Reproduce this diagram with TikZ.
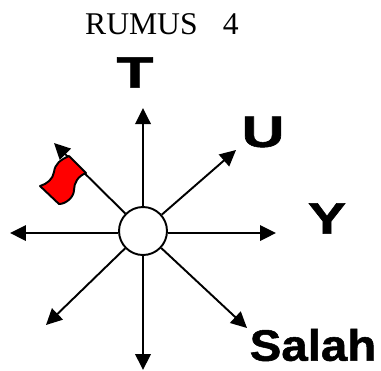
\documentclass[tikz,border=0pt]{standalone}
\usepackage{fontspec}
\setmainfont{Liberation Serif}
\newfontfamily\headfont[BoldFeatures={FakeBold=1.2}]{Liberation Sans}
\usetikzlibrary{arrows.meta}

\begin{document}
\begin{tikzpicture}[
    x=0.02cm, y=-0.02cm,
    hub/.style={circle, draw, fill=white, line width=1.1pt, minimum size=0.96cm, inner sep=0pt},
    direction/.style={font=\headfont\bfseries\fontsize{25}{25}\selectfont, inner sep=0pt, transform shape},
    arrow/.style={-{Triangle[length=0.32cm, width=0.31cm]}, line width=1.1pt}
]
    \useasboundingbox (0,0) rectangle (381,370);

    \coordinate (tipN) at (143,108);
    \coordinate (tipNE) at (236,150);
    \coordinate (tipE) at (276,233);
    \coordinate (tipSE) at (247,328);
    \coordinate (tipS) at (143,370);
    \coordinate (tipSW) at (46,325);
    \coordinate (tipW) at (10,233);
    \coordinate (tipNW) at (54,143);

    \node[hub] (center) at (143,231) {};

    \draw[arrow] (center) -- (tipN);
    \draw[arrow] (center) -- (tipNE);
    \draw[arrow] (center.east |- tipE) -- (tipE);
    \draw[arrow] (center) -- (tipSE);
    \draw[arrow] (center) -- (tipS);
    \draw[arrow] (center) -- (tipSW);
    \draw[arrow] (center.west |- tipW) -- (tipW);
    \draw[arrow] (center) -- (tipNW);

    % flag on the north-west arrow
    \draw[fill=red, line width=1.1pt, line join=round] (69,156) -- (86,173)
        .. controls (78,176) and (74,183) .. (74,190)
        .. controls (74,197) and (66,204) .. (59,204)
        -- (40,186)
        .. controls (47,184) and (53,179) .. (54,172)
        .. controls (55,164) and (60,160) .. (69,156) -- cycle;

    \node[font=\fontsize{18}{18}\selectfont, inner sep=0pt] (title) at (162,24) {RUMUS\hspace{0.8em}4};
    \node[direction, xscale=1.38] (north) at (135,72.5) {T};
    \node[direction, xscale=1.35] (east) at (263,132) {U};
    \node[direction, xscale=1.3] (y) at (327,218.5) {Y};
    \node[direction, xscale=1.08] (salah) at (313,345) {Salah};
\end{tikzpicture}
\end{document}
